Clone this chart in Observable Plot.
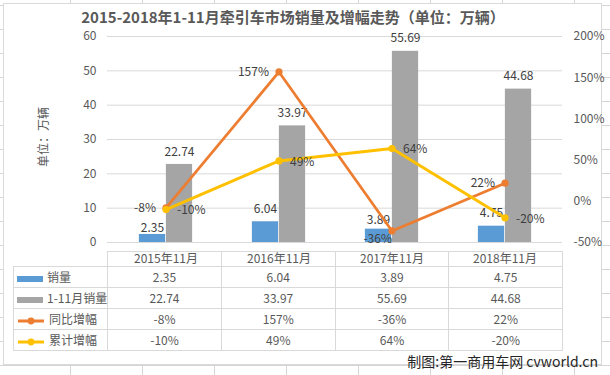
<!DOCTYPE html>
<html>
<head>
<meta charset="utf-8">
<script src="https://cdn.jsdelivr.net/npm/d3@7"></script>
<script src="https://cdn.jsdelivr.net/npm/@observablehq/plot@0.6"></script>
<style>
  html, body { margin: 0; padding: 0; }
  body {
    width: 610px; height: 375px; position: relative; overflow: hidden;
    font-family: "Noto Sans CJK SC", "Noto Sans", sans-serif;
    background-color: #fff;
    background-image:
      linear-gradient(to right, #d6d6d6 1px, transparent 1px),
      linear-gradient(to bottom, #d6d6d6 1px, transparent 1px);
    background-size: 72px 100%, 100% 24px;
    background-position: 70px 0, 0 5px;
  }
  #frame { position: absolute; left: 3px; top: 3px; width: 599px; height: 362px;
    box-sizing: border-box; border: 1px solid #d9d9d9; background: #fff; }
  #title { position: absolute; left: 0; width: 586px; top: 9px; text-align: center;
    font-size: 15px; font-weight: bold; color: #595959; line-height: 15px; white-space: nowrap; }
  #ytitle { position: absolute; left: 42px; top: 137px; transform: translate(-50%, -50%) rotate(-90deg);
    font-size: 12px; color: #595959; white-space: nowrap; }
  #chart { position: absolute; left: 0; top: 0; z-index: 2; }
  #tbl { position: absolute; left: 13px; top: 251px; border-collapse: collapse; table-layout: fixed;
    font-size: 12px; color: #595959; z-index: 1; }
  #tbl td { border: 1px solid #d9d9d9; padding: 0; text-align: center; white-space: nowrap; line-height: 14px; }
  #tbl tr.head td { height: 14px; border-bottom: 1px solid #d9d9d9; }
  #tbl tr.head td.blank { border: none; }
  #tbl tr.body td { height: 20px; }
  #tbl td.lab { text-align: left; padding-left: 3px; }
  .sw { display: inline-block; vertical-align: middle; margin-right: 4px; }
  #caption { position: absolute; right: 12px; top: 351px; font-size: 14px; color: #262626; line-height: 20px; white-space: nowrap; z-index: 3; }
</style>
</head>
<body>
<div id="frame"></div>
<div id="title">2015-2018年1-11月牵引车市场销量及增幅走势（单位：万辆）</div>
<div id="ytitle">单位：万辆</div>
<div id="chartwrap"></div>
<table id="tbl"></table>
<div id="caption">制图:第一商用车网 cvworld.cn</div>
<script>
const categories = ["2015年11月", "2016年11月", "2017年11月", "2018年11月"];
const sales = [2.35, 6.04, 3.89, 4.75];          // 销量
const cumSales = [22.74, 33.97, 55.69, 44.68];   // 1-11月销量
const yoy = [-8, 157, -36, 22];                  // 同比增幅 (%)
const cumYoy = [-10, 49, 64, -20];               // 累计增幅 (%)
const leftTicks = [0, 10, 20, 30, 40, 50, 60];
const rightTicks = [-50, 0, 50, 100, 150, 200];

const seriesNames = ["销量", "1-11月销量", "同比增幅", "累计增幅"];
const colors = ["#5B9BD5", "#A5A5A5", "#ED7D31", "#FFC000"];

const rows = categories.map((c, i) => ({cat: c, sales: sales[i], cum: cumSales[i], yoy: yoy[i], cumYoy: cumYoy[i]}));

// secondary axis (-50%..200%) mapped onto primary (0..60)
const toY = p => (p + 50) * 60 / 250;
const fromY = v => Math.round(v * 250 / 60 - 50);

const W = 610, mL = 107, mR = 48;
const bw = (W - mL - mR) / categories.length;
const barW = 27;
const half = bw / 2;

const lblFill = "#404040";

const chart = Plot.plot({
  width: W, height: 266,
  marginTop: 36, marginBottom: 24, marginLeft: mL, marginRight: mR,
  style: {fontFamily: '"Noto Sans CJK SC", "Noto Sans", sans-serif', fontSize: "12px", color: "#595959", background: "transparent", overflow: "visible"},
  x: {type: "band", domain: categories, padding: 0, label: null},
  y: {domain: [0, 60], label: null},
  marks: [
    Plot.gridY(leftTicks, {stroke: "#d9d9d9", strokeOpacity: 1}),
    Plot.axisY(leftTicks, {anchor: "left", tickSize: 0, tickPadding: 11, label: null}),
    Plot.axisY(rightTicks.map(toY), {anchor: "right", tickSize: 0, tickPadding: 11, label: null, tickFormat: v => fromY(v) + "%"}),
    Plot.axisX({tickSize: 0, tickPadding: 12, label: null}),
    Plot.barY(rows, {x: "cat", y: "sales", fill: colors[0], insetLeft: half - barW, insetRight: half}),
    Plot.barY(rows, {x: "cat", y: "cum", fill: colors[1], insetLeft: half, insetRight: half - barW}),
    // bar labels
    Plot.text(rows, {filter: d => d.cat === "2016年11月" || d.cat === "2018年11月", x: "cat", y: "sales", text: d => d.sales.toFixed(2), dx: -barW / 2, dy: -12.7, fill: lblFill}),
    Plot.text(rows, {filter: d => d.cat === "2015年11月", x: "cat", y: "sales", text: d => d.sales.toFixed(2), dx: -barW / 2, dy: -6, fill: lblFill}),
    Plot.text(rows, {filter: d => d.cat === "2017年11月", x: "cat", y: "sales", text: d => d.sales.toFixed(2), dx: -barW / 2, dy: -9, fill: lblFill}),
    Plot.text(rows, {x: "cat", y: "cum", text: d => d.cum.toFixed(2), dx: barW / 2, dy: -12.7, fill: lblFill}),
    // 同比增幅 line
    Plot.line(rows, {x: "cat", y: d => toY(d.yoy), stroke: colors[2], strokeWidth: 2.75, strokeLinejoin: "round", strokeLinecap: "round"}),
    Plot.dot(rows, {x: "cat", y: d => toY(d.yoy), r: 3.6, fill: colors[2], stroke: "none"}),
    // 累计增幅 line
    Plot.line(rows, {x: "cat", y: d => toY(d.cumYoy), stroke: colors[3], strokeWidth: 3, strokeLinejoin: "round", strokeLinecap: "round"}),
    Plot.dot(rows, {x: "cat", y: d => toY(d.cumYoy), r: 3.6, fill: colors[3], stroke: "none"}),
    // line labels
    Plot.text(rows, {filter: d => d.cat !== "2017年11月", x: "cat", y: d => toY(d.yoy), text: d => d.yoy + "%", textAnchor: "end", dx: -10, fill: lblFill}),
    Plot.text(rows, {filter: d => d.cat === "2017年11月", x: "cat", y: d => toY(d.yoy), text: d => d.yoy + "%", textAnchor: "end", dx: 0, dy: 8, fill: lblFill}),
    Plot.text(rows, {x: "cat", y: d => toY(d.cumYoy), text: d => d.cumYoy + "%", textAnchor: "start", dx: 11, dy: 1, fill: lblFill})
  ]
});
chart.id = "chart";
document.getElementById("chartwrap").appendChild(chart);

// data table
const tbl = document.getElementById("tbl");
const colW = [94, bw, bw, bw, bw];
const cg = document.createElement("colgroup");
colW.forEach(w => { const c = document.createElement("col"); c.style.width = w + "px"; cg.appendChild(c); });
tbl.appendChild(cg);
const head = document.createElement("tr");
head.className = "head";
for (let i = 0; i < 5; i++) { const td = document.createElement("td"); if (i === 0) td.className = "blank"; head.appendChild(td); }
tbl.appendChild(head);

function swatch(i) {
  if (i < 2) return `<span class="sw" style="width:26px;height:6px;background:${colors[i]}"></span>`;
  return `<svg class="sw" width="28" height="10" style="margin-left:0"><line x1="1" x2="27" y1="5" y2="5" stroke="${colors[i]}" stroke-width="3"/><circle cx="14" cy="5" r="3.4" fill="${colors[i]}"/></svg>`;
}
const seriesVals = [
  sales.map(v => v.toFixed(2)),
  cumSales.map(v => v.toFixed(2)),
  yoy.map(v => v + "%"),
  cumYoy.map(v => v + "%")
];
seriesNames.forEach((name, i) => {
  const tr = document.createElement("tr");
  tr.className = "body";
  let html = `<td class="lab">${swatch(i)}${name}</td>`;
  seriesVals[i].forEach(v => { html += `<td>${v}</td>`; });
  tr.innerHTML = html;
  tbl.appendChild(tr);
});
</script>
</body>
</html>
